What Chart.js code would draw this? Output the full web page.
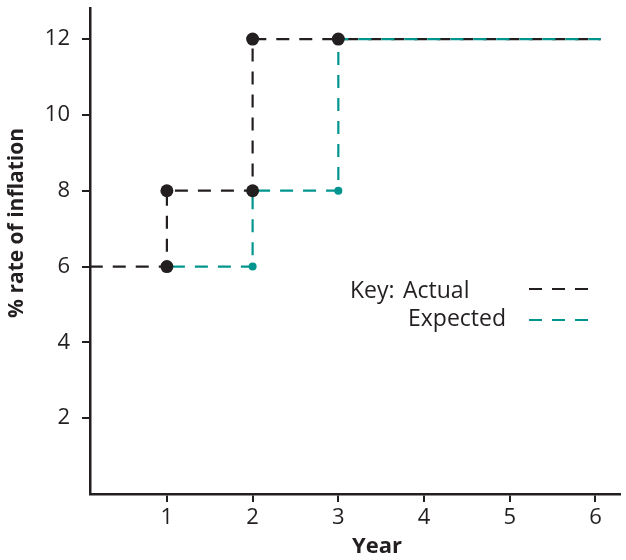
<!DOCTYPE html>
<html>
<head>
<meta charset="utf-8">
<script src="https://cdn.jsdelivr.net/npm/chart.js@4"></script>
<style>
  html, body { margin: 0; background: #fff; overflow: hidden; }
  canvas { display: block; }
</style>
</head>
<body>
<canvas id="inflationChart" width="626" height="560"></canvas>
<script>
// step data
const actualX = [0.1, 1, 1, 2, 2, 3, 6.06]
const actualY = [6, 6, 8, 8, 12, 12, 12]
const expectedX = [1, 2, 2, 3, 3, 6.06]
const expectedY = [6, 6, 8, 8, 12, 12]
const xTicks = [1, 2, 3, 4, 5, 6]
const yTicks = [2, 4, 6, 8, 10, 12]

const ink = "#231f20"
const teal = "#00968f"
const dash = [13, 10]

const toPoints = (xs, ys) => xs.map((x, i) => ({ x: x, y: ys[i] }))

const actualPts = toPoints(actualX, actualY)
const expectedPts = toPoints(expectedX, expectedY)

const keyPlugin = {
    id: "keyAndTitles",
    afterDraw(chart) {
        const c = chart.ctx
        c.save()
        c.fillStyle = ink
        c.textBaseline = "alphabetic"
        c.font = "23px 'Open Sans'"
        c.fillText("Key:", 350, 298)
        c.fillText("Actual", 403, 298)
        c.fillText("Expected", 408, 326)

        c.lineWidth = 2.2
        c.setLineDash(dash)
        c.strokeStyle = ink
        c.beginPath(); c.moveTo(529, 289); c.lineTo(591, 289); c.stroke()
        c.strokeStyle = teal
        c.beginPath(); c.moveTo(529, 320); c.lineTo(591, 320); c.stroke()
        c.setLineDash([])

        c.font = "bold 22px 'Open Sans'"
        c.textAlign = "center"
        c.textBaseline = "middle"
        c.fillText("Year", 377, 547)
        c.font = "bold 21px 'Open Sans'"
        c.translate(17, 223)
        c.rotate(-Math.PI / 2)
        c.fillText("% rate of inflation", 0, 0)
        c.restore()
    }
}

new Chart(document.getElementById("inflationChart"), {
    type: "scatter",
    data: {
        datasets: [
            {
                label: "Actual markers",
                data: actualPts.slice(1, -1),
                showLine: false,
                pointRadius: 6.5,
                pointBackgroundColor: ink,
                pointBorderWidth: 0,
                order: 0
            },
            {
                label: "Expected",
                data: expectedPts,
                showLine: true,
                borderColor: teal,
                borderWidth: 2.2,
                borderDash: dash,
                borderDashOffset: 18,
                pointRadius: ctx => ctx.dataIndex === expectedX.length - 1 ? 0 : 4,
                pointBackgroundColor: teal,
                pointBorderWidth: 0,
                order: 1
            },
            {
                label: "Actual",
                data: actualPts,
                showLine: true,
                borderColor: ink,
                borderWidth: 2.2,
                borderDash: dash,
                pointRadius: 0,
                order: 2
            }
        ]
    },
    options: {
        responsive: false,
        animation: false,
        layout: { padding: { top: 8, right: 0, left: 0, bottom: 0 } },
        plugins: {
            legend: { display: false },
            tooltip: { enabled: false }
        },
        scales: {
            x: {
                type: "linear",
                min: 0.103,
                max: 6.28,
                afterFit: s => {
                    s.height = 66
                    s.paddingLeft = 0
                    s.paddingRight = 0
                },
                afterBuildTicks: s => { s.ticks = xTicks.map(v => ({ value: v })) },
                grid: { drawOnChartArea: false, color: ink, lineWidth: 2, tickLength: 8 },
                border: { color: ink, width: 2.5 },
                ticks: { color: ink, padding: 3, font: { family: "Open Sans", size: 22 } }
            },
            y: {
                min: 0,
                max: 12.82,
                afterFit: s => {
                    s.width = 90
                    s.paddingTop = 0
                    s.paddingBottom = 0
                    s.paddingLeft = 0
                    s.paddingRight = 0
                },
                afterBuildTicks: s => { s.ticks = yTicks.map(v => ({ value: v })) },
                grid: { drawOnChartArea: false, color: ink, lineWidth: 2, tickLength: 8 },
                border: { color: ink, width: 2.5 },
                ticks: { color: ink, padding: 12, font: { family: "Open Sans", size: 22 } }
            }
        }
    },
    plugins: [keyPlugin]
})
</script>
</body>
</html>
